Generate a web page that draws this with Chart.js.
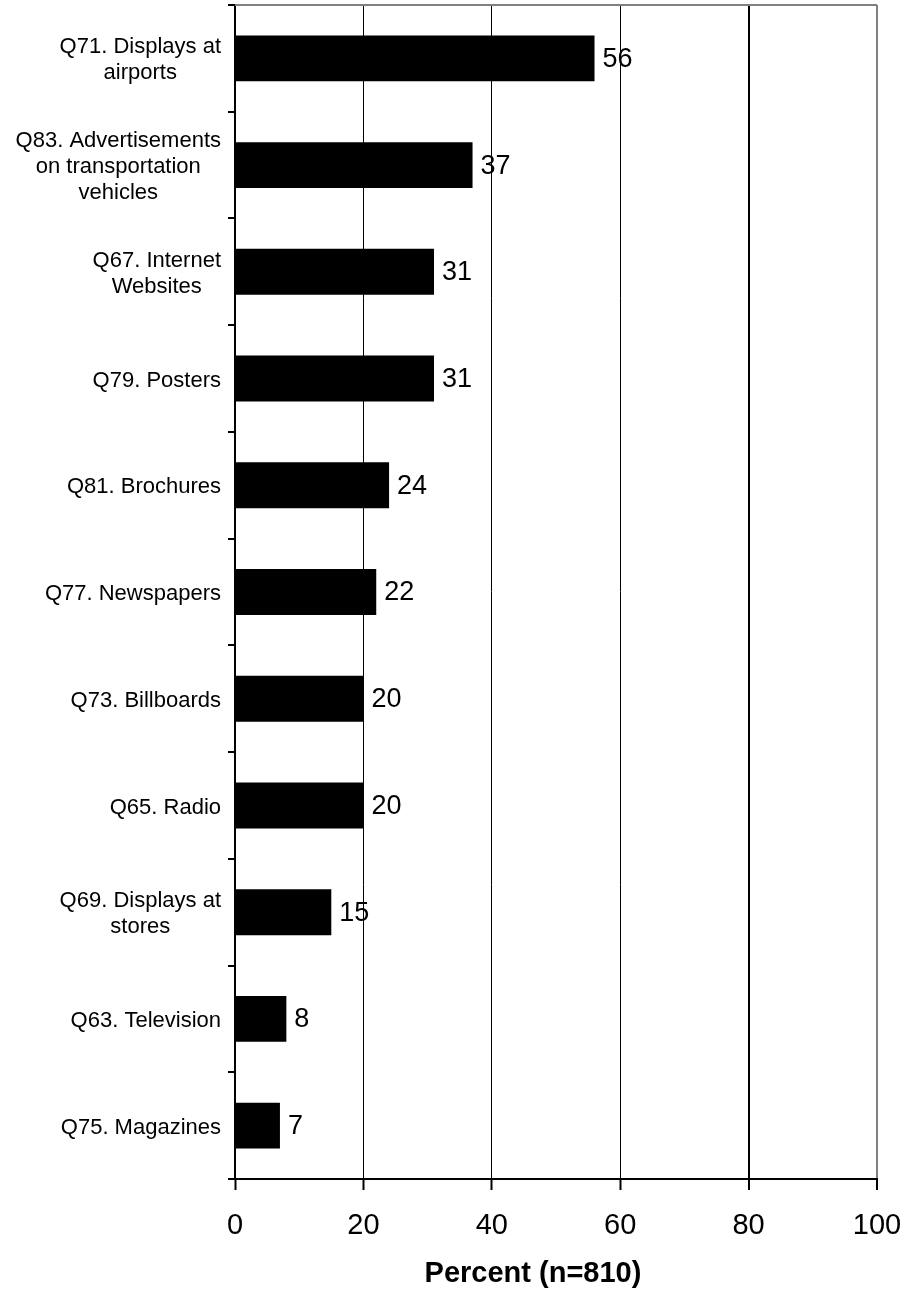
<!DOCTYPE html>
<html lang="en">
<head>
  <meta charset="UTF-8">
  <title>Percent (n=810)</title>
  <script src="https://cdn.jsdelivr.net/npm/chart.js"></script>
  <style>
    html, body {
      margin: 0;
      padding: 0;
      background: #fff;
    }
    #grafico {
      display: block;
    }
  </style>
</head>
<body>

  <canvas id="grafico" width="906" height="1293"></canvas>

  <script>
    // categorias (cada linha do rótulo é um item)
    const categorias = [
      ['Q71. Displays at', 'airports'],
      ['Q83. Advertisements', 'on transportation', 'vehicles'],
      ['Q67. Internet', 'Websites'],
      ['Q79. Posters'],
      ['Q81. Brochures'],
      ['Q77. Newspapers'],
      ['Q73. Billboards'],
      ['Q65. Radio'],
      ['Q69. Displays at', 'stores'],
      ['Q63. Television'],
      ['Q75. Magazines']
    ];
    const valores = [56, 37, 31, 31, 24, 22, 20, 20, 15, 8, 7];
    const ticksX = [0, 20, 40, 60, 80, 100];
    const tituloX = 'Percent (n=810)';

    const fonte = "'Liberation Sans', Arial, sans-serif";

    // rótulos de valor, rótulos das categorias, borda superior e título do eixo
    const desenhos = {
      id: 'desenhos',
      beforeDatasetsDraw(chart) {
        const ctx = chart.ctx;
        const area = chart.chartArea;
        ctx.save();
        ctx.strokeStyle = '#808080';
        ctx.lineWidth = 2;
        ctx.beginPath();
        ctx.moveTo(area.left, area.top);
        ctx.lineTo(area.right, area.top);
        ctx.stroke();
        ctx.restore();
      },
      afterDraw(chart) {
        const ctx = chart.ctx;
        const escalaY = chart.scales.y;
        const escalaX = chart.scales.x;
        const meta = chart.getDatasetMeta(0);
        ctx.save();
        ctx.fillStyle = '#000';

        ctx.font = `27px ${fonte}`;
        ctx.textAlign = 'left';
        ctx.textBaseline = 'middle';
        meta.data.forEach((barra, i) => {
          ctx.fillText(String(valores[i]), barra.x + 8, barra.y + 1);
        });

        ctx.font = `22px ${fonte}`;
        ctx.textAlign = 'center';
        const alturaLinha = 26;
        const direita = escalaY.right - 14;
        categorias.forEach((linhas, i) => {
          const largura = Math.max(...linhas.map(l => ctx.measureText(l).width));
          const cx = direita - largura / 2;
          const cy = escalaY.getPixelForValue(i);
          const y0 = cy - (linhas.length - 1) * alturaLinha / 2;
          linhas.forEach((l, j) => ctx.fillText(l, cx, y0 + j * alturaLinha + 2));
        });

        ctx.font = `bold 29px ${fonte}`;
        ctx.textAlign = 'center';
        ctx.fillText(tituloX, (escalaX.left + escalaX.right) / 2 - 23, 1274);
        ctx.restore();
      }
    };

    new Chart(document.getElementById('grafico'), {
      type: 'bar',
      data: {
        labels: categorias.map(c => c.join(' ')),
        datasets: [{
          data: valores,
          backgroundColor: '#000',
          borderWidth: 0,
          barPercentage: 0.43,
          categoryPercentage: 1
        }]
      },
      options: {
        responsive: false,
        animation: false,
        indexAxis: 'y',
        layout: { padding: { top: 5, right: 29, left: 0, bottom: 0 } },
        plugins: {
          legend: { display: false },
          tooltip: { enabled: false }
        },
        scales: {
          x: {
            min: 0,
            max: 100,
            afterBuildTicks: s => { s.ticks = ticksX.map(v => ({ value: v })); },
            afterFit: s => {
              s.height = 114;
              s.paddingLeft = 0;
              s.paddingRight = 0;
            },
            border: { color: '#000', width: 2 },
            grid: {
              color: c => (c.tick && c.tick.value === 100) ? '#808080' : '#000',
              lineWidth: c => (c.tick && c.tick.value >= 80) ? 2 : 1,
              tickColor: '#000',
              tickWidth: 2,
              tickLength: 11
            },
            ticks: {
              font: { family: fonte, size: 29 },
              color: '#000',
              padding: 19,
              maxRotation: 0
            }
          },
          y: {
            afterFit: s => { s.width = 235; },
            border: { color: '#000', width: 2 },
            grid: {
              drawOnChartArea: false,
              offset: true,
              color: '#000',
              lineWidth: 2,
              tickLength: 7
            },
            ticks: { display: false }
          }
        }
      },
      plugins: [desenhos]
    });
  </script>
</body>
</html>
